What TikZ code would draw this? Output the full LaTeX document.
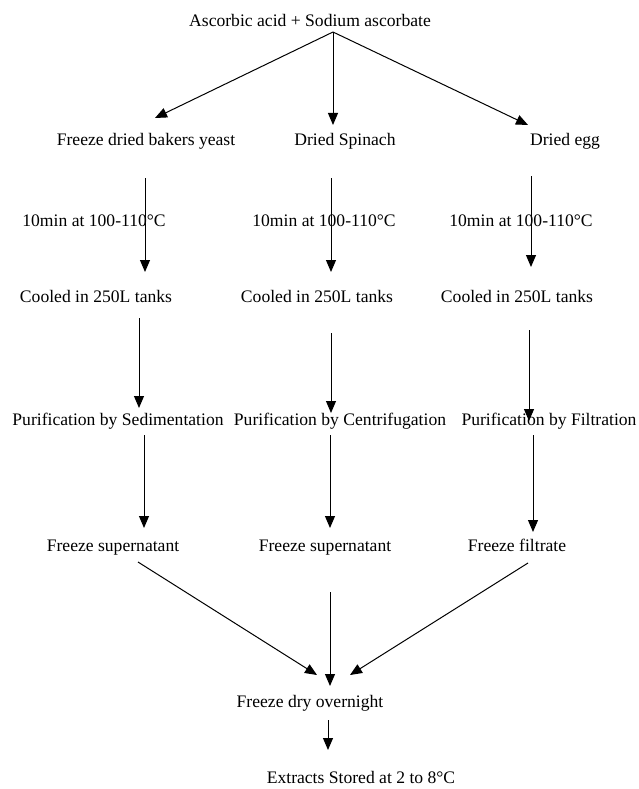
\documentclass[tikz,border=0pt]{standalone}
\usepackage{fontspec}
\setmainfont{Liberation Serif}
\usetikzlibrary{arrows.meta}
\begin{document}
\begin{tikzpicture}[x=1pt,y=-1pt,
  lbl/.style={inner sep=0pt, anchor=base, font=\fontsize{17.6}{20}\selectfont},
  arr/.style={-{Triangle[length=12pt,width=10pt]}, line width=1pt}]
\useasboundingbox (0,0) rectangle (639,789);
% texts
\node[lbl] (src) at (310,26.5) {Ascorbic acid + Sodium ascorbate};
\node[lbl] (yeast) at (146,145.5) {Freeze dried bakers yeast};
\node[lbl] (spin) at (345,145.5) {Dried Spinach};
\node[lbl] (egg) at (565,145.5) {Dried egg};
\node[lbl] (t1) at (94,226) {10min at 100-110°C};
\node[lbl] (t2) at (324,226) {10min at 100-110°C};
\node[lbl] (t3) at (521,226) {10min at 100-110°C};
\node[lbl] (c1) at (96,302) {Cooled in 250L tanks};
\node[lbl] (c2) at (317,302) {Cooled in 250L tanks};
\node[lbl] (c3) at (517,302) {Cooled in 250L tanks};
\node[lbl] (p1) at (118,425) {Purification by Sedimentation};
\node[lbl] (p2) at (340,425) {Purification by Centrifugation};
\node[lbl] (p3) at (549,425) {Purification by Filtration};
\node[lbl] (f1) at (113,551) {Freeze supernatant};
\node[lbl] (f2) at (325,551) {Freeze supernatant};
\node[lbl] (f3) at (517,551) {Freeze filtrate};
\node[lbl] (fd) at (310,707) {Freeze dry overnight};
\node[lbl] (ex) at (361,783) {Extracts Stored at 2 to 8°C};
% connector end points
\coordinate (s0) at (333,32);
\coordinate (s1) at (155,118);
\coordinate (s2) at (333,125);
\coordinate (s3) at (528,125);
\coordinate (a1s) at (145,178); \coordinate (a1e) at (145,272);
\coordinate (a2s) at (331,178); \coordinate (a2e) at (331,272);
\coordinate (a3s) at (531,176); \coordinate (a3e) at (531,267);
\coordinate (b1s) at (139,318); \coordinate (b1e) at (139,408);
\coordinate (b2s) at (331,333); \coordinate (b2e) at (331,413);
\coordinate (b3s) at (529,330); \coordinate (b3e) at (529,421);
\coordinate (d1s) at (144,435); \coordinate (d1e) at (144,528);
\coordinate (d2s) at (330,435); \coordinate (d2e) at (330,528);
\coordinate (d3s) at (533,435); \coordinate (d3e) at (533,532);
\coordinate (g1s) at (138,562); \coordinate (g1e) at (317,675);
\coordinate (g2s) at (330,592); \coordinate (g2e) at (330,686);
\coordinate (g3s) at (528,563); \coordinate (g3e) at (350,675);
\coordinate (hs) at (328,720); \coordinate (he) at (328,750);
% connectors
\draw[arr] (s0) -- (s1);
\draw[arr] (s0) -- (s2);
\draw[arr] (s0) -- (s3);
\draw[arr] (a1s) -- (a1e);
\draw[arr] (a2s) -- (a2e);
\draw[arr] (a3s) -- (a3e);
\draw[arr] (b1s) -- (b1e);
\draw[arr] (b2s) -- (b2e);
\draw[arr] (b3s) -- (b3e);
\draw[arr] (d1s) -- (d1e);
\draw[arr] (d2s) -- (d2e);
\draw[arr] (d3s) -- (d3e);
\draw[arr] (g1s) -- (g1e);
\draw[arr] (g2s) -- (g2e);
\draw[arr] (g3s) -- (g3e);
\draw[arr] (hs) -- (he);
\end{tikzpicture}
\end{document}
